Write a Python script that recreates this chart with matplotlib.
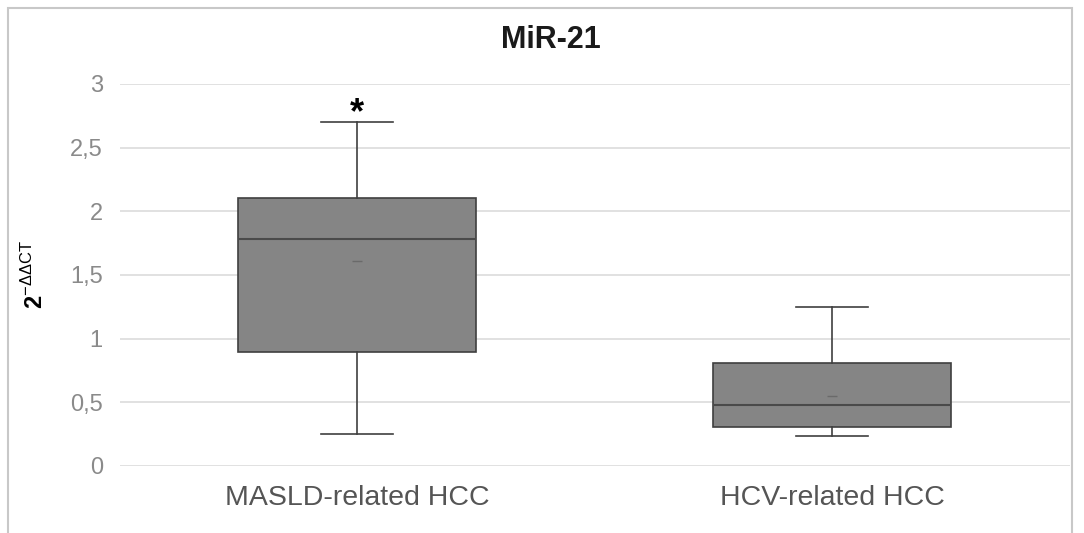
import matplotlib.pyplot as plt
from matplotlib.patches import Rectangle

# summary statistics per group (2^-ddCT)
groups = ['MASLD-related HCC', 'HCV-related HCC']
q1 = [0.895, 0.31]
median = [1.78, 0.48]
q3 = [2.105, 0.81]
whislo = [0.25, 0.235]
whishi = [2.70, 1.25]
mean = [1.61, 0.55]
yticks = [0, 0.5, 1, 1.5, 2, 2.5, 3]
ytick_labels = ['0', '0,5', '1', '1,5', '2', '2,5', '3']

plt.rcParams['font.family'] = ['Liberation Sans', 'DejaVu Sans']
plt.rcParams['mathtext.fontset'] = 'custom'
plt.rcParams['mathtext.rm'] = 'Liberation Sans'
plt.rcParams['mathtext.bf'] = 'Liberation Sans:bold'

fig = plt.figure(figsize=(10.84, 5.33), dpi=100)
ax = fig.add_axes([119.5 / 1084, 1 - 466 / 533, 950 / 1084, 382 / 533])

stats = []
for i in range(len(groups)):
    stats.append({'label': groups[i], 'q1': q1[i], 'med': median[i], 'q3': q3[i],
                  'whislo': whislo[i], 'whishi': whishi[i], 'mean': mean[i], 'fliers': []})

ax.bxp(stats, positions=[1, 2], widths=0.503, patch_artist=True, showmeans=True,
       boxprops=dict(facecolor='#858585', edgecolor='#3f3f3f', linewidth=1.2),
       medianprops=dict(color='#4a4a4a', linewidth=1.5),
       whiskerprops=dict(color='#3f3f3f', linewidth=1.2),
       capprops=dict(color='#3f3f3f', linewidth=1.2),
       capwidths=0.15,
       meanprops=dict(marker='_', markeredgecolor='#6a6a6a', markersize=7))

# significance mark above the first group
ax.text(1, whishi[0] - 0.07, '*', ha='center', va='bottom', fontsize=26,
        fontweight='bold', color='black')

ax.set_xlim(0.5, 2.5)
ax.set_ylim(0, 3)
ax.set_yticks(yticks)
ax.set_yticklabels(ytick_labels, fontsize=17, color='#8a8a8a')
ax.set_xticks([1, 2])
ax.set_xticklabels(groups, fontsize=20.5, color='#555555')
ax.tick_params(length=0, pad=12)
ax.tick_params(axis='x', pad=14)
ax.yaxis.grid(True, color='#dcdcdc', linewidth=1.2)
ax.set_axisbelow(True)
for s in ax.spines.values():
    s.set_visible(False)

ax.set_ylabel(r'$\mathbf{2}^{\mathrm{-\Delta\Delta CT}}$', fontsize=17, labelpad=16)
fig.text(0.508, 0.925, 'MiR-21', ha='center', va='center', fontsize=22,
         fontweight='bold', color='#1a1a1a')

# outer frame
fig.patches.append(Rectangle((8 / 1084, -0.01), 1064 / 1084, 1 - 8 / 533 + 0.01,
                             transform=fig.transFigure, fill=False,
                             edgecolor='#c8c8c8', linewidth=1.5))

fig.savefig('out.png', dpi=100)
